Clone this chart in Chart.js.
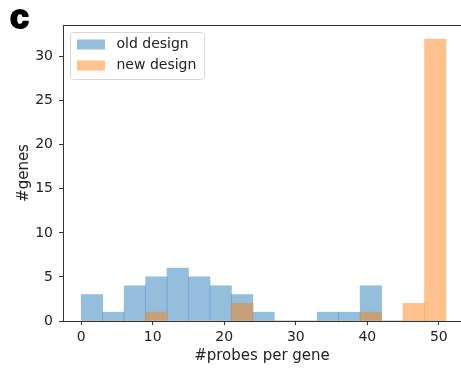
<!DOCTYPE html>
<html>
<head>
<meta charset="utf-8">
<script src="https://cdn.jsdelivr.net/npm/chart.js@4.4.0/dist/chart.umd.min.js"></script>
<style>
    html, body { margin: 0; padding: 0; background: #fff; overflow: hidden; }
    #wrap { width: 461px; height: 368px; position: relative; }
</style>
</head>
<body>
<div id="wrap"><canvas id="chart"></canvas></div>
<script>
// histogram bins of width 3, given by their centres
var binCenters = [1.5, 4.5, 7.5, 10.5, 13.5, 16.5, 19.5, 22.5, 25.5, 28.5, 31.5, 34.5, 37.5, 40.5, 43.5, 46.5, 49.5];
var oldDesign = [3, 1, 4, 5, 6, 5, 4, 3, 1, 0, 0, 1, 1, 4, 0, 0, 0];
var newDesign = [0, 0, 0, 1, 0, 0, 0, 2, 0, 0, 0, 0, 0, 1, 0, 2, 32];
var xTicks = [0, 10, 20, 30, 40, 50];
var yTicks = [0, 5, 10, 15, 20, 25, 30];
var seriesLabels = ['old design', 'new design'];

var blue = 'rgba(31, 119, 180, 0.48)';
var orange = 'rgba(255, 127, 14, 0.48)';
var axisColor = '#333';
var textColor = '#222';

function toPoints(values) {
    return values.map(function (v, i) { return {x: binCenters[i], y: v}; });
}

var framePlugin = {
    id: 'frame',
    afterDraw: function (chart) {
        var ctx = chart.ctx;
        var a = chart.chartArea;
        ctx.save();
        // top spine
        ctx.strokeStyle = axisColor;
        ctx.lineWidth = 1;
        ctx.beginPath();
        ctx.moveTo(a.left, a.top + 0.5);
        ctx.lineTo(a.right, a.top + 0.5);
        ctx.stroke();

        // panel letter
        ctx.fillStyle = '#000';
        ctx.strokeStyle = '#000';
        ctx.lineWidth = 2;
        ctx.lineJoin = 'round';
        ctx.font = 'bold 34px "Liberation Sans", Arial, sans-serif';
        ctx.textBaseline = 'alphabetic';
        ctx.textAlign = 'left';
        ctx.strokeText('c', 10, 27.5);
        ctx.fillText('c', 10, 27.5);

        // legend box, upper left inside the axes
        var lx = a.left + 7.5, ly = a.top + 7.5, lw = 134, lh = 47;
        ctx.lineWidth = 1;
        ctx.fillStyle = 'rgba(255,255,255,0.8)';
        ctx.strokeStyle = '#d6d6d6';
        ctx.beginPath();
        if (ctx.roundRect) { ctx.roundRect(lx, ly, lw, lh, 3); } else { ctx.rect(lx, ly, lw, lh); }
        ctx.fill();
        ctx.stroke();
        ctx.font = '14px "DejaVu Sans", sans-serif';
        ctx.textBaseline = 'middle';
        seriesLabels.forEach(function (label, i) {
            var ds = chart.data.datasets[i];
            var cy = ly + 11.5 + i * 21;
            ctx.fillStyle = ds.backgroundColor;
            ctx.fillRect(lx + 6.5, cy - 4.5, 28, 10);
            ctx.fillStyle = textColor;
            ctx.fillText(label, lx + 46, cy + 0.5);
        });
        ctx.restore();
    }
};

new Chart(document.getElementById('chart'), {
    type: 'bar',
    data: {
        datasets: [{
            label: seriesLabels[0],
            data: toPoints(oldDesign),
            backgroundColor: blue,
            borderWidth: 0,
            barPercentage: 1,
            categoryPercentage: 1,
            grouped: false,
            order: 2
        }, {
            label: seriesLabels[1],
            data: toPoints(newDesign),
            backgroundColor: orange,
            borderWidth: 0,
            barPercentage: 1,
            categoryPercentage: 1,
            grouped: false,
            order: 1
        }]
    },
    options: {
        responsive: true,
        maintainAspectRatio: false,
        animation: false,
        layout: { padding: { top: 25, right: 0, left: 0, bottom: 0 } },
        plugins: {
            legend: { display: false },
            tooltip: { enabled: false }
        },
        scales: {
            x: {
                type: 'linear',
                offset: false,
                min: -2.55,
                max: 53.1,
                afterBuildTicks: function (scale) {
                    scale.ticks = xTicks.map(function (v) { return {value: v}; });
                },
                afterFit: function (scale) { scale.height = 47; },
                ticks: { color: textColor, font: { family: 'DejaVu Sans', size: 14 }, padding: 4, maxRotation: 0 },
                grid: { offset: false, drawOnChartArea: false, drawTicks: true, tickLength: 4, color: axisColor },
                border: { color: axisColor, width: 1 },
                title: {
                    display: true,
                    text: '#probes per gene',
                    color: textColor,
                    font: { family: 'DejaVu Sans', size: 15 },
                    padding: { top: 0, bottom: 3 }
                }
            },
            y: {
                min: 0,
                max: 33.6,
                afterBuildTicks: function (scale) {
                    scale.ticks = yTicks.map(function (v) { return {value: v}; });
                },
                afterFit: function (scale) { scale.width = 63; },
                ticks: { color: textColor, font: { family: 'DejaVu Sans', size: 14 }, padding: 6 },
                grid: { offset: false, drawOnChartArea: false, drawTicks: true, tickLength: 4, color: axisColor },
                border: { color: axisColor, width: 1 },
                title: {
                    display: true,
                    text: '#genes',
                    color: textColor,
                    font: { family: 'DejaVu Sans', size: 15 },
                    padding: { top: 15, bottom: 0 }
                }
            }
        }
    },
    plugins: [framePlugin]
});
</script>
</body>
</html>
